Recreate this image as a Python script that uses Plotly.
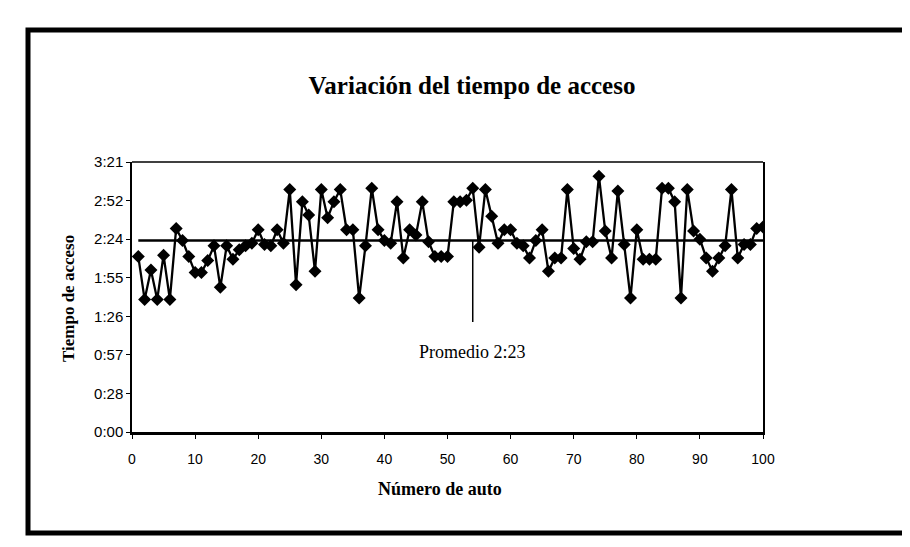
import plotly.graph_objects as go

# ---- data ----
auto_numbers = list(range(1, 101))
access_seconds = [
    131, 99, 121, 99, 132, 99, 152, 143, 131, 119,
    119, 128, 139, 108, 139, 129, 136, 139, 141, 151,
    140, 139, 151, 141, 181, 110, 172, 162, 120, 181,
    160, 172, 181, 151, 151, 100, 139, 182, 151, 143,
    141, 172, 130, 151, 147, 172, 142, 131, 131, 131,
    172, 172, 173, 182, 138, 181, 161, 141, 151, 151,
    141, 139, 130, 143, 151, 120, 130, 130, 181, 137,
    129, 142, 142, 191, 150, 130, 180, 140, 100, 151,
    129, 129, 129, 182, 182, 172, 100, 181, 150, 144,
    130, 120, 130, 139, 181, 130, 140, 140, 152, 153,
]
average_seconds = 143          # 2:23
average_label = "Promedio 2:23"
average_marker_auto = 54

y_tick_values = [0, 28.8, 57.6, 86.4, 115.2, 144.0, 172.8, 201.6]
y_tick_labels = ["0:00", "0:28", "0:57", "1:26", "1:55", "2:24", "2:52", "3:21"]
x_tick_values = [0, 10, 20, 30, 40, 50, 60, 70, 80, 90, 100]

title_text = "Variación del tiempo de acceso"
x_title = "Número de auto"
y_title = "Tiempo de acceso"

# ---- layout geometry ----
W, H = 910, 547
L, R, T, B = 124, 155, 154, 123
PW, PH = W - L - R, H - T - B


def px(xp):
    return (xp - L) / PW


def py(yp):
    return (H - B - yp) / PH


SERIF = "Liberation Serif, Times New Roman, serif"
SANS = "Liberation Sans, Arial, sans-serif"

fig = go.Figure()

fig.add_trace(go.Scatter(
    x=auto_numbers, y=access_seconds, mode="lines+markers",
    line=dict(color="black", width=2.3),
    marker=dict(symbol="diamond", size=10, color="black"),
    showlegend=False, hoverinfo="x+y",
))

fig.add_trace(go.Scatter(
    x=[auto_numbers[0], auto_numbers[-1]],
    y=[average_seconds, average_seconds],
    mode="lines", line=dict(color="black", width=2.5),
    showlegend=False, hoverinfo="skip",
))

fig.update_layout(
    width=W, height=H,
    margin=dict(l=L, r=R, t=T, b=B),
    paper_bgcolor="white", plot_bgcolor="white",
    title=dict(text="<b>" + title_text + "</b>", x=464 / W, xanchor="center",
               y=1 - 77 / H, yanchor="middle",
               font=dict(family=SERIF, size=25, color="black")),
    xaxis=dict(range=[0, 100], tickvals=x_tick_values,
               showgrid=False, zeroline=False,
               showline=True, linecolor="black", linewidth=2.5, mirror=False,
               ticks="outside", ticklen=4, tickcolor="black", tickwidth=1.2,
               ticklabelstandoff=8,
               tickfont=dict(family=SANS, size=14, color="black")),
    yaxis=dict(range=[0, 201.6], tickvals=y_tick_values, ticktext=y_tick_labels,
               showgrid=False, zeroline=False,
               showline=True, linecolor="black", linewidth=1.5, mirror=True,
               ticks="outside", ticklen=4, tickcolor="black", tickwidth=1.2,
               tickfont=dict(family=SANS, size=15, color="black")),
    shapes=[
        dict(type="line", xref="paper", yref="paper", x0=0, x1=1, y0=1, y1=1,
             line=dict(color="black", width=1.5)),
        dict(type="rect", xref="paper", yref="paper",
             x0=px(20), x1=px(898), y0=py(525), y1=py(22),
             line=dict(color="black", width=5)),
    ],
    annotations=[
        dict(text=average_label, x=average_marker_auto, y=average_seconds,
             xref="x", yref="y", ax=0, ay=112, axref="pixel", ayref="pixel",
             showarrow=True, arrowhead=0, arrowwidth=1.5, arrowcolor="black",
             startstandoff=19,
             font=dict(family=SERIF, size=18, color="black")),
        dict(text="<b>" + x_title + "</b>", xref="paper", yref="paper",
             x=px(432), y=py(481), showarrow=False,
             xanchor="center", yanchor="middle",
             font=dict(family=SERIF, size=18, color="black")),
        dict(text="<b>" + y_title + "</b>", xref="paper", yref="paper",
             x=px(60), y=py(291), showarrow=False, textangle=-90,
             xanchor="center", yanchor="middle",
             font=dict(family=SERIF, size=17, color="black")),
    ],
)

fig.write_html("out.html")
